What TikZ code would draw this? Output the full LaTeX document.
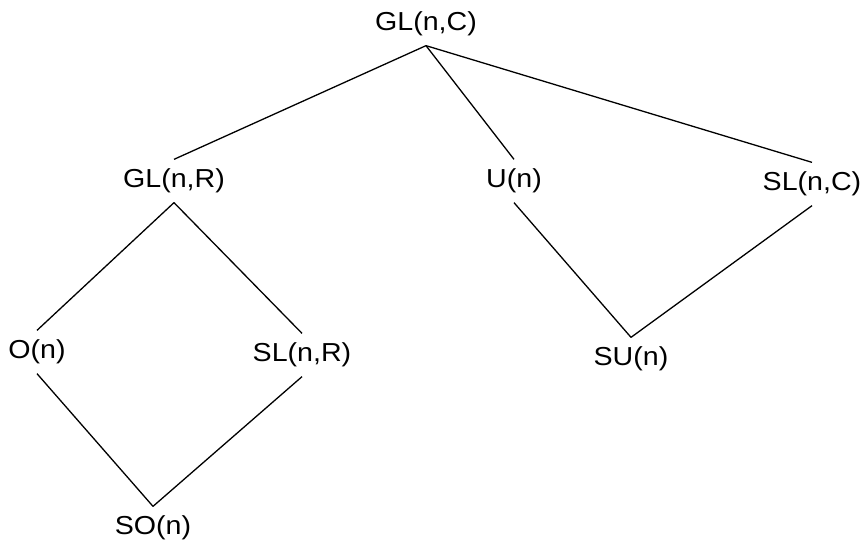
\documentclass[tikz,border=0pt]{standalone}
\usepackage{fontspec}
\setmainfont{Liberation Sans}[FakeStretch=1.1]
\begin{document}
\begin{tikzpicture}[x=1pt, y=-1pt, line width=1.3pt,
  grp/.style={inner sep=0pt, text height=1.5em, text depth=0.2em, minimum height=42pt,
    font=\fontsize{26}{30}\selectfont}]
\useasboundingbox (0,0) rectangle (860,544);
\node (glc) [grp] at (426,24) {GL(n,C)};
\node (glr) [grp] at (174,181) {GL(n,R)};
\node (un) [grp] at (514,181) {U(n)};
\node (slc) [grp] at (812,184) {SL(n,C)};
\node (on) [grp] at (37,352) {O(n)};
\node (slr) [grp] at (302,355) {SL(n,R)};
\node (sun) [grp] at (631,359) {SU(n)};
\node (son) [grp] at (153,528) {SO(n)};

\draw (glc.south) -- (glr.north);
\draw (glc.south) -- (un.north);
\draw (glc.south) -- (slc.north);
\draw (glr.south) -- (on.north);
\draw (glr.south) -- (slr.north);
\draw (un.south) -- (sun.north);
\draw (slc.south) -- (sun.north);
\draw (on.south) -- (son.north);
\draw (slr.south) -- (son.north);
\end{tikzpicture}
\end{document}
